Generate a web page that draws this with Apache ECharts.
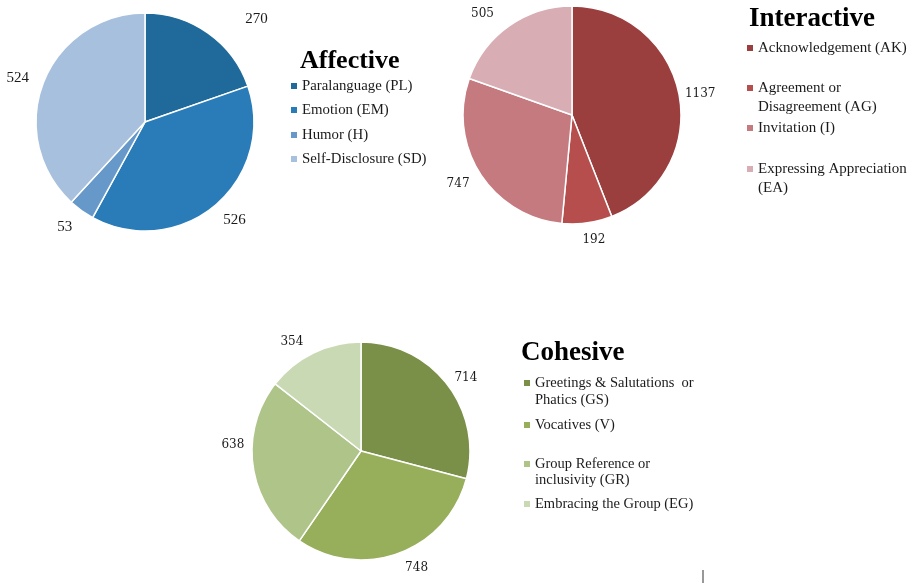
<!DOCTYPE html>
<html>
<head>
<meta charset="utf-8">
<script src="https://cdn.jsdelivr.net/npm/echarts@6/dist/echarts.min.js"></script>
<style>
  html, body { margin: 0; padding: 0; background: #fff; }
  #main { width: 910px; height: 583px; }
</style>
</head>
<body>
<div id="main"></div>
<script>
// data
let affCats = ['Paralanguage (PL)', 'Emotion (EM)', 'Humor (H)', 'Self-Disclosure (SD)'];
let affVals = [270, 526, 53, 524];
let intCats = ['Acknowledgement (AK)', 'Agreement or Disagreement (AG)', 'Invitation (I)', 'Expressing Appreciation (EA)'];
let intVals = [1137, 192, 747, 505];
let cohCats = ['Greetings & Salutations  or Phatics (GS)', 'Vocatives (V)', 'Group Reference or inclusivity (GR)', 'Embracing the Group (EG)'];
let cohVals = [714, 748, 638, 354];

let affColors = ['#1f6a9a', '#2a7cb9', '#6699c9', '#a7c0dd'];
let intColors = ['#9a3e3e', '#b54e4d', '#c47a7f', '#d8adb4'];
let cohColors = ['#7a8f47', '#97ae5a', '#afc488', '#c9d9b4'];

// small label nudges so the value labels sit where the original put them
let affNudge = [[27, -7], [-3, 8], [1, 9], [-1, -1]];
let intNudge = [[-8, 1], [-11, 8], [2, 5], [-5, -5]];
let cohNudge = [[-5, -1], [-2, 6], [5, -24], [-1, -3]];

// first line shown in legend, rest drawn as plain text below
let firstLine = {
    'Agreement or Disagreement (AG)': 'Agreement or',
    'Expressing Appreciation (EA)': 'Expressing Appreciation',
    'Greetings & Salutations  or Phatics (GS)': 'Greetings & Salutations  or',
    'Group Reference or inclusivity (GR)': 'Group Reference or'
};

let serif = '"Liberation Serif", "Times New Roman", serif';
let txt = '#1b1b1b';

function pieData(cats, vals, colors, nudge) {
    return cats.map(function (c, i) {
        return {name: c, value: vals[i], itemStyle: {color: colors[i]}, label: {offset: nudge[i]}};
    });
}

function pieSeries(center, cats, vals, colors, nudge, labelFont, labelSize) {
    return {
        type: 'pie',
        center: center,
        radius: 109,
        startAngle: 90,
        clockwise: true,
        avoidLabelOverlap: false,
        itemStyle: {borderColor: '#fff', borderWidth: 1.5},
        label: {
            position: 'outside',
            formatter: '{c}',
            fontFamily: labelFont,
            fontSize: labelSize,
            color: txt
        },
        labelLine: {show: false, length: 9, length2: 0},
        emphasis: {scale: false},
        data: pieData(cats, vals, colors, nudge)
    };
}

// one legend per item so gaps can follow the picture
function legendItem(name, left, centerY, size) {
    return {
        data: [name],
        left: left,
        top: centerY - 8,
        padding: 0,
        icon: 'rect',
        itemWidth: 6,
        itemHeight: 6,
        itemStyle: {borderWidth: 0},
        selectedMode: false,
        formatter: function (n) { return firstLine[n] || n; },
        textStyle: {fontFamily: serif, fontSize: size, color: txt, lineHeight: 16}
    };
}

let legends = [];
affCats.forEach(function (c, i) { legends.push(legendItem(c, 291, [86, 110, 135, 159][i], 14.8)); });
intCats.forEach(function (c, i) { legends.push(legendItem(c, 747, [48, 88, 128, 169][i], 15)); });
cohCats.forEach(function (c, i) { legends.push(legendItem(c, 524, [383, 425, 464, 504][i], 14.5)); });

function plainText(x, y, text, size, bold) {
    return {
        type: 'text', left: x, top: y,
        style: {text: text, font: (bold ? 'bold ' : '') + size + 'px ' + serif, fill: bold ? '#000' : txt}
    };
}

let myChart = echarts.init(document.getElementById('main'));
let option = {
    backgroundColor: '#fff',
    animation: false,
    legend: legends,
    series: [
        pieSeries([145, 122], affCats, affVals, affColors, affNudge, serif, 15),
        pieSeries([572, 115], intCats, intVals, intColors, intNudge, '"DejaVu Serif", serif', 12),
        pieSeries([361, 451], cohCats, cohVals, cohColors, cohNudge, '"DejaVu Serif", serif', 12)
    ],
    graphic: [
        plainText(300, 48, 'Affective', 26, true),
        plainText(749, 6, 'Interactive', 27, true),
        plainText(521, 340, 'Cohesive', 27, true),
        plainText(758, 100, 'Disagreement (AG)', 15),
        plainText(758, 181, '(EA)', 15),
        plainText(535, 393, 'Phatics (GS)', 14.5),
        plainText(535, 473, 'inclusivity (GR)', 14.5),
        {type: 'line', shape: {x1: 703, y1: 570, x2: 703, y2: 583}, style: {stroke: '#333', lineWidth: 1}}
    ]
};
myChart.setOption(option);
</script>
</body>
</html>
